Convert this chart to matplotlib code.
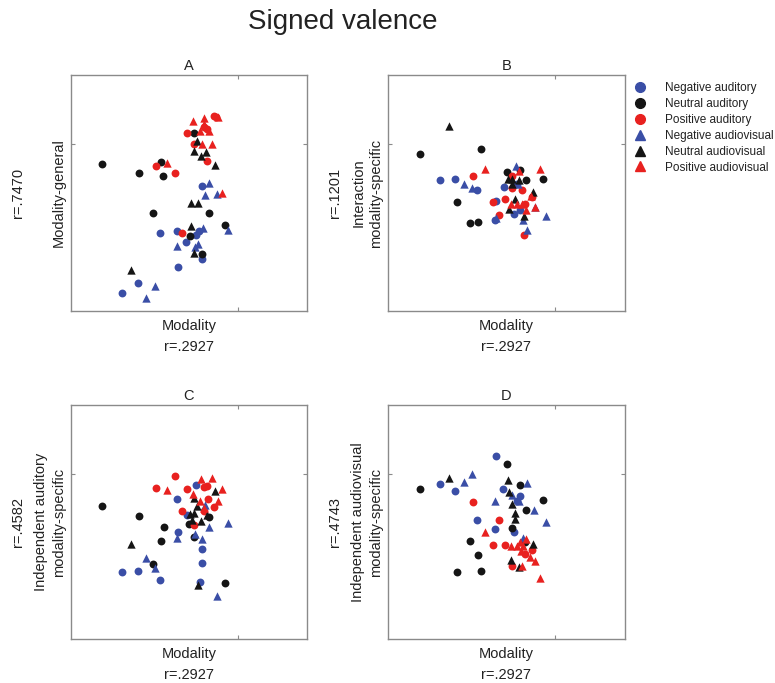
import numpy as np
import matplotlib
matplotlib.use("Agg")
import matplotlib.pyplot as plt
from matplotlib.lines import Line2D

plt.rcParams['font.family'] = ['Liberation Sans', 'DejaVu Sans']

# (x, y) pairs per panel and category; x = Modality score, y = panel score
A_NEG_AUD = [(-1.06, -1.25), (-2.34, -2.66), (-1.82, -2.60), (-1.54, -2.93), (-1.26, -2.73),
             (-1.15, -2.60), (-1.06, -3.45), (-1.78, -3.67), (-2.99, -4.17), (-3.46, -4.45)]
A_NEU_AUD = [(-4.06, -0.58), (-2.95, -0.85), (-2.29, -0.53), (-2.23, -0.94), (-1.31, 0.34),
             (-2.53, -2.05), (-0.87, -2.05), (-0.38, -2.43), (-1.44, -2.76), (-1.08, -3.28)]
A_POS_AUD = [(-1.52, 0.33), (-1.30, 0.01), (-0.92, -0.51), (-2.46, -0.64), (-1.87, -0.86),
             (-1.68, -2.66), (-0.71, 0.85), (-0.65, 0.83), (-1.01, 0.52), (-0.93, 0.47)]
A_NEG_AV = [(-0.87, -1.15), (-0.99, -1.52), (-0.63, -1.48), (-1.05, -2.51), (-0.28, -2.57),
            (-1.81, -3.06), (-1.28, -3.07), (-1.18, -2.98), (-2.49, -4.25), (-2.74, -4.60)]
A_NEU_AV = [(-1.21, 0.10), (-1.32, -0.19), (-1.11, -0.34), (-0.94, -0.24), (-0.67, -0.62),
            (-1.41, -1.77), (-1.19, -1.77), (-1.39, -2.45), (-1.31, -3.26), (-3.20, -3.78)]
A_POS_AV = [(-1.33, 0.69), (-1.02, 0.79), (-0.60, 0.82), (-1.13, 0.41), (-0.87, 0.41),
            (-1.01, 0.60), (-1.08, 0.01), (-0.76, 0.00), (-2.11, -0.57), (-0.46, -1.45)]

B_NEG_AUD = [(-3.45, -1.08), (-2.99, -1.05), (-2.33, -1.37), (-1.76, -1.70), (-1.81, -2.28),
             (-1.54, -1.27), (-1.25, -2.09), (-1.06, -1.97), (-1.15, -1.18)]
B_NEU_AUD = [(-4.05, -0.29), (-2.23, -0.15), (-2.94, -1.72), (-2.54, -2.36), (-2.30, -2.34),
             (-1.45, -0.83), (-0.87, -1.08), (-0.37, -1.04), (-1.07, -0.77)]
B_POS_AUD = [(-2.45, -0.95), (-1.85, -1.73), (-1.51, -1.64), (-1.68, -2.12), (-1.29, -1.31),
             (-1.00, -1.37), (-0.91, -1.78), (-0.70, -1.57), (-0.93, -2.71), (-1.30, -0.95)]
B_NEG_AV = [(-2.74, -1.19), (-2.49, -1.32), (-1.18, -0.64), (-1.11, -1.18), (-0.97, -2.26),
            (-0.85, -2.57), (-0.28, -2.16), (-0.61, -1.89), (-1.77, -2.20)]
B_NEU_AV = [(-3.19, 0.56), (-1.41, -1.04), (-1.29, -1.03), (-1.10, -1.06), (-1.30, -1.20),
            (-0.67, -1.42), (-1.20, -1.63), (-1.38, -1.95), (-0.94, -2.15)]
B_POS_AV = [(-2.10, -0.73), (-0.46, -0.74), (-1.08, -0.81), (-1.32, -1.79), (-1.15, -1.80),
            (-0.99, -1.80), (-0.87, -1.97), (-0.61, -1.87), (-0.74, -1.55)]

C_NEG_AUD = [(-1.26, -0.34), (-1.82, -0.77), (-1.53, -1.24), (-1.78, -1.77), (-1.06, -2.29),
             (-1.06, -2.69), (-3.46, -2.97), (-2.99, -2.94), (-2.34, -3.22), (-1.14, -3.29)]
C_NEU_AUD = [(-4.06, -0.97), (-2.95, -1.29), (-2.22, -1.62), (-2.30, -2.02), (-2.53, -2.74),
             (-1.45, -1.51), (-1.31, -1.92), (-0.87, -1.32), (-0.38, -3.31)]
C_POS_AUD = [(-1.87, -0.08), (-2.45, -0.42), (-1.52, -0.47), (-1.01, -0.40), (-0.92, -0.37),
             (-0.90, -0.75), (-0.71, -1.02), (-1.68, -1.14), (-1.30, -1.55), (-1.01, -1.13)]
C_NEG_AV = [(-0.99, -0.95), (-0.87, -1.61), (-0.28, -1.49), (-1.82, -1.93), (-1.28, -1.82),
            (-1.06, -1.96), (-2.75, -2.54), (-2.49, -2.86), (-0.63, -3.71)]
C_NEU_AV = [(-3.20, -2.14), (-0.67, -0.52), (-1.32, -0.74), (-1.21, -0.99), (-1.43, -1.21),
            (-1.31, -1.20), (-1.38, -1.39), (-1.11, -1.44), (-0.92, -1.26), (-1.18, -3.36)]
C_POS_AV = [(-1.09, -0.17), (-0.76, -0.13), (-0.46, -0.46), (-2.11, -0.50), (-1.35, -0.61),
            (-1.14, -0.81), (-0.60, -0.82), (-1.01, -1.03)]

D_NEG_AUD = [(-1.77, 0.55), (-3.45, -0.30), (-2.99, -0.53), (-1.55, -0.47), (-1.06, -0.67),
             (-1.14, -0.82), (-2.33, -1.41), (-1.81, -1.67), (-1.25, -1.75)]
D_NEU_AUD = [(-4.05, -0.46), (-1.45, 0.29), (-1.07, -0.33), (-0.37, -0.80), (-0.87, -1.10),
             (-1.31, -1.63), (-2.54, -2.03), (-2.30, -2.45), (-2.94, -2.98), (-2.23, -2.95),
             (-0.92, -2.08)]
D_POS_AUD = [(-2.45, -0.84), (-1.68, -1.39), (-1.86, -2.15), (-1.51, -2.16), (-1.30, -2.79),
             (-0.91, -2.42), (-0.70, -2.32)]
D_NEG_AV = [(-2.48, -0.01), (-2.74, -0.24), (-0.86, -0.29), (-1.29, -0.63), (-1.81, -0.82),
            (-1.09, -0.81), (-0.63, -1.11), (-0.28, -1.46), (-0.97, -1.94)]
D_NEU_AV = [(-3.19, -0.14), (-1.42, -0.19), (-1.38, -0.55), (-1.30, -0.92), (-1.20, -1.19),
            (-1.20, -1.38), (-0.67, -2.13), (-1.32, -2.60), (-1.10, -2.81)]
D_POS_AV = [(-2.10, -1.75), (-1.32, -2.20), (-1.15, -2.18), (-0.87, -1.98), (-1.07, -2.05),
            (-0.97, -2.19), (-1.02, -2.35), (-0.77, -2.52), (-0.61, -2.63), (-0.99, -2.78),
            (-0.46, -3.15)]

CATEGORIES = ['Negative auditory', 'Neutral auditory', 'Positive auditory',
              'Negative audiovisual', 'Neutral audiovisual', 'Positive audiovisual']
PANEL_TITLES = ['A', 'B', 'C', 'D']
Y_LABELS = ['Modality-general', 'Interaction\nmodality-specific',
            'Independent auditory\nmodality-specific', 'Independent audiovisual\nmodality-specific']
Y_R = ['r=.7470', 'r=.1201', 'r=.4582', 'r=.4743']
X_R = 'r=.2927'

panels = [
    [A_NEG_AUD, A_NEU_AUD, A_POS_AUD, A_NEG_AV, A_NEU_AV, A_POS_AV],
    [B_NEG_AUD, B_NEU_AUD, B_POS_AUD, B_NEG_AV, B_NEU_AV, B_POS_AV],
    [C_NEG_AUD, C_NEU_AUD, C_POS_AUD, C_NEG_AV, C_NEU_AV, C_POS_AV],
    [D_NEG_AUD, D_NEU_AUD, D_POS_AUD, D_NEG_AV, D_NEU_AV, D_POS_AV],
]

blue, black, red = '#3a4ea6', '#151515', '#e8211f'
colors = [blue, black, red, blue, black, red]
markers = ['o', 'o', 'o', '^', '^', '^']
txt = '#222222'
spine_c = '#8a8a8a'

W, H = 775, 683
fig = plt.figure(figsize=(W / 100, H / 100), dpi=100)

# axes boxes in pixels: left, top, width, height
boxes = [(71, 75, 236, 236), (388, 75, 237, 236), (71, 405, 236, 234), (388, 405, 237, 234)]

axes = []
for i, (l, t, w, h) in enumerate(boxes):
    ax = fig.add_axes([l / W, 1 - (t + h) / H, w / W, h / H])
    for pts, c, m in zip(panels[i], colors, markers):
        pts = np.array(pts)
        ax.scatter(pts[:, 0], pts[:, 1], s=32 if m == 'o' else 36, c=c, marker=m,
                   linewidths=0, zorder=3)
    ax.set_xlim(-5.0, 2.08)
    ax.set_ylim(-5.0, 2.08)
    ax.set_xticks([0])
    ax.set_yticks([0])
    ax.set_xticklabels([])
    ax.set_yticklabels([])
    ax.tick_params(direction='in', length=3, width=0.8, color=spine_c,
                   top=True, right=True)
    for sp in ax.spines.values():
        sp.set_color(spine_c)
        sp.set_linewidth(1.0)

    ax.text(0.5, 1 + 9 / h, PANEL_TITLES[i], transform=ax.transAxes, ha='center',
            va='center', fontsize=10.5, color=txt)
    ax.text(0.5, -15 / h, 'Modality', transform=ax.transAxes, ha='center',
            va='center', fontsize=10.5, color=txt)
    ax.text(0.5, -36 / h, X_R, transform=ax.transAxes, ha='center',
            va='center', fontsize=10.5, color=txt)
    ax.text(-53 / w, 0.5, Y_R[i], transform=ax.transAxes, ha='center',
            va='center', fontsize=10.5, color=txt, rotation=90)
    lab_off = 12 if '\n' not in Y_LABELS[i] else 21
    ax.text(-lab_off / w, 0.5, Y_LABELS[i], transform=ax.transAxes, ha='center',
            va='center', fontsize=10.5, color=txt, rotation=90, linespacing=1.3)
    axes.append(ax)

handles = [Line2D([], [], linestyle='none', marker=m, color=c, markersize=7)
           for c, m in zip(colors, markers)]
axes[1].legend(handles, CATEGORIES, loc='upper left', bbox_to_anchor=(1.0, 1.01),
               frameon=False, fontsize=8.5, handlelength=1.0, handletextpad=1.6,
               labelspacing=0.33, borderpad=0.3, labelcolor=txt)

fig.text(343 / W, 1 - 22 / H, 'Signed valence', ha='center', va='center',
         fontsize=20, color=txt)

fig.savefig('out.png', dpi=100)
